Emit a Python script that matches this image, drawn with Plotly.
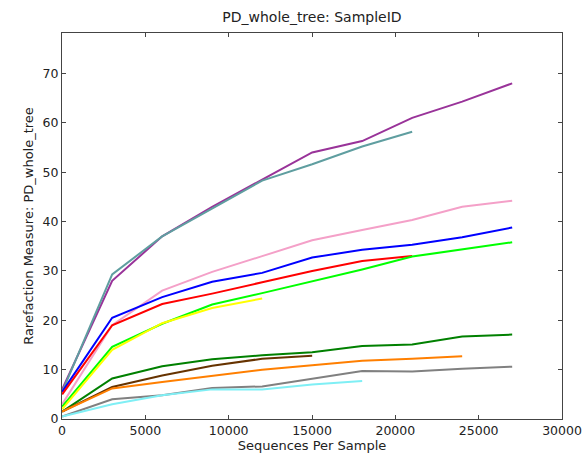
import plotly.graph_objects as go

depths = [10, 3010, 6010, 9010, 12010, 15010, 18010, 21010, 24010, 27010]

series_names = ["purple", "teal", "pink", "blue", "red", "lime", "yellow",
                "green", "brown", "orange", "gray", "cyan"]
series_colors = ["#993399", "#5F9EA0", "#F4A0C8", "#0000FF", "#FF0000", "#00FF00",
                 "#FFFF00", "#008000", "#663300", "#FF7F00", "#808080", "#7FEFF5"]
series_values = [
    [6.0, 28.0, 37.0, 43.0, 48.5, 54.0, 56.3, 61.0, 64.3, 68.0],
    [5.5, 29.3, 37.0, 42.7, 48.3, 51.6, 55.2, 58.2],
    [3.0, 19.0, 26.0, 29.8, 33.0, 36.2, 38.3, 40.3, 43.0, 44.2],
    [5.5, 20.5, 24.7, 27.8, 29.6, 32.7, 34.3, 35.3, 36.8, 38.8],
    [5.0, 19.0, 23.3, 25.4, 27.7, 30.0, 32.0, 33.0],
    [2.5, 14.6, 19.3, 23.2, 25.5, 27.9, 30.3, 32.9, 34.3, 35.8],
    [2.0, 14.0, 19.4, 22.5, 24.4],
    [1.5, 8.2, 10.7, 12.1, 12.9, 13.5, 14.8, 15.1, 16.7, 17.1],
    [1.5, 6.5, 8.8, 10.8, 12.2, 12.8],
    [1.5, 6.2, 7.5, 8.8, 10.0, 10.9, 11.8, 12.2, 12.7],
    [0.5, 4.0, 4.8, 6.3, 6.6, 8.2, 9.7, 9.6, 10.2, 10.6],
    [0.5, 3.0, 4.8, 6.0, 6.0, 7.0, 7.7],
]

x_ticks = [0, 5000, 10000, 15000, 20000, 25000, 30000]
y_ticks = [0, 10, 20, 30, 40, 50, 60, 70]

fig = go.Figure()
for name, color, vals in zip(series_names, series_colors, series_values):
    fig.add_trace(go.Scatter(
        x=depths[:len(vals)], y=vals, mode="lines", name=name,
        line=dict(color=color, width=2), showlegend=False,
    ))

axis_common = dict(
    showline=True, linecolor="#444444", linewidth=1, mirror="ticks",
    ticks="inside", ticklen=4, tickcolor="#444444", tickwidth=1,
    showgrid=False, zeroline=False, automargin=False,
    tickfont=dict(family="DejaVu Sans", size=12.5, color="#222222"),
)

fig.update_layout(
    width=582, height=453,
    margin=dict(l=62, r=20, t=33, b=34),
    paper_bgcolor="white", plot_bgcolor="white",
    title=dict(text="PD_whole_tree: SampleID", x=0.536, xanchor="center",
               y=0.963, yanchor="middle",
               font=dict(family="DejaVu Sans", size=14, color="#222222")),
    xaxis=dict(range=[0, 30000], tickvals=x_ticks,
               ticktext=[str(v) for v in x_ticks],
               title=dict(text="Sequences Per Sample", standoff=0,
                          font=dict(family="DejaVu Sans", size=13, color="#222222")),
               **axis_common),
    yaxis=dict(range=[0, 78.2], tickvals=y_ticks,
               ticktext=[str(v) for v in y_ticks],
               title=dict(text="Rarefaction Measure: PD_whole_tree", standoff=6,
                          font=dict(family="DejaVu Sans", size=13, color="#222222")),
               **axis_common),
)

fig.write_html("out.html")
